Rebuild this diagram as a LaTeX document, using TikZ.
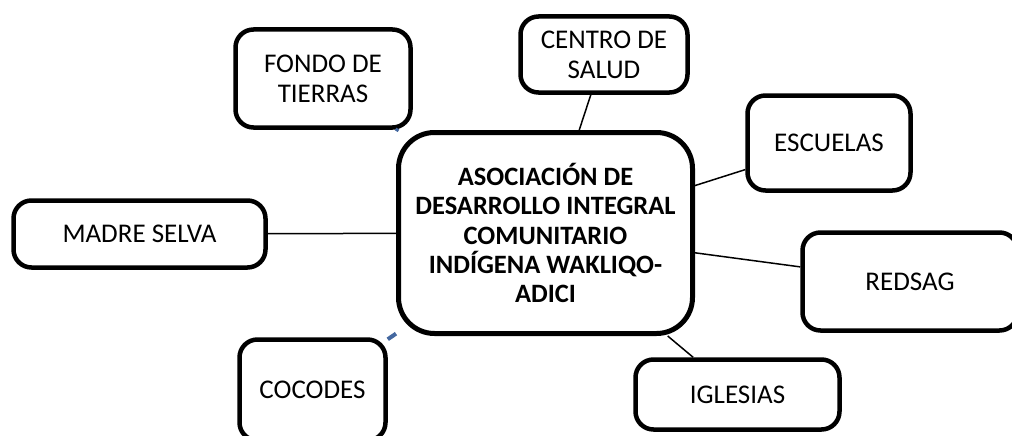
\documentclass[tikz,border=0pt]{standalone}
\usepackage{fontspec}
\setmainfont{Carlito}
\definecolor{linkblue}{RGB}{68,104,160}
\begin{document}
\begin{tikzpicture}[x=1pt,y=-1pt,
  box/.style={draw=black, line width=4.5pt, rounded corners=18pt, fill=white, align=center,
    font=\fontsize{27}{30}\selectfont, inner sep=0pt},
  hub/.style={draw=black, line width=5pt, rounded corners=36pt, fill=white, align=center,
    font=\bfseries\fontsize{26.5}{29.2}\selectfont, inner sep=0pt},
  link/.style={draw=black, line width=1.5pt},
  bluelink/.style={draw=linkblue, line width=4pt}]
\useasboundingbox (0,0) rectangle (1012,436);
\clip (0,0) rectangle (1012,436);
\node[box, minimum width=175pt, minimum height=98pt] (fondo) at (323,78.5) {FONDO DE\\TIERRAS};
\node[box, minimum width=167pt, minimum height=76pt] (centro) at (604,54.5) {CENTRO DE\\SALUD};
\node[box, minimum width=163pt, minimum height=95pt] (escuelas) at (829,143) {ESCUELAS};
\node[box, minimum width=252pt, minimum height=67pt] (madre) at (139.5,234) {MADRE SELVA};
\node[hub, minimum width=294pt, minimum height=201pt] (adici) at (545.5,233)
  {ASOCIACIÓN DE\\DESARROLLO INTEGRAL\\COMUNITARIO\\INDÍGENA WAKLIQO-\\ADICI};
\node[box, minimum width=215pt, minimum height=98pt] (redsag) at (910,281.5) {REDSAG};
\node[box, minimum width=204pt, minimum height=70pt] (iglesias) at (737.5,394.5) {IGLESIAS};
\node[box, minimum width=146pt, minimum height=101pt] (cocodes) at (312.5,390) {COCODES};
\draw[link] (centro) -- (adici);
\draw[link] (escuelas) -- (adici);
\draw[link] (madre) -- (adici);
\draw[link] (redsag) -- (adici);
\draw[link] (iglesias) -- (adici);
\draw[bluelink, line width=3pt, line cap=rect] (fondo) -- (adici);
\draw[bluelink] (cocodes) -- (adici);
\end{tikzpicture}
\end{document}
